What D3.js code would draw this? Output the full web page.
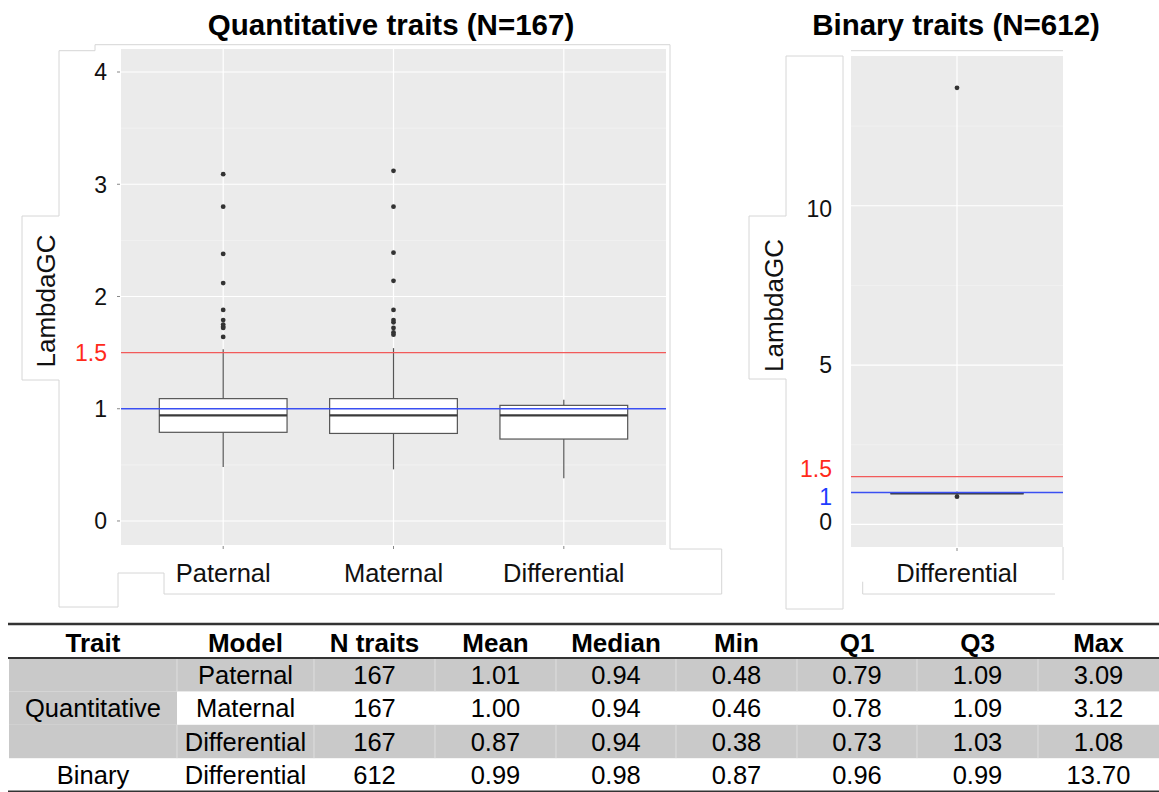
<!DOCTYPE html>
<html>
<head>
<meta charset="utf-8">
<script src="https://cdn.jsdelivr.net/npm/d3@7"></script>
<style>
  body { margin: 0; background: #fff; }
  svg { display: block; font-family: "Liberation Sans", Arial, Helvetica, sans-serif; }
</style>
</head>
<body>
<svg id="fig" width="1159" height="792"></svg>
<script>
// ---- data ----
const quantModels = ["Paternal", "Maternal", "Differential"];
const quantQ1 = [0.79, 0.78, 0.73];
const quantMedian = [0.94, 0.94, 0.94];
const quantQ3 = [1.09, 1.09, 1.03];
const quantWhiskerLow = [0.48, 0.46, 0.38];
const quantWhiskerHigh = [1.53, 1.54, 1.08];
const quantOutliers = [
  [3.09, 2.80, 2.38, 2.12, 1.88, 1.79, 1.75, 1.73, 1.72, 1.64],
  [3.12, 2.80, 2.39, 2.14, 1.88, 1.79, 1.77, 1.72, 1.68, 1.66],
  []
];
const quantTicks = [0, 1, 2, 3, 4];

const binaryModels = ["Differential"];
const binaryQ1 = [0.96];
const binaryMedian = [0.98];
const binaryQ3 = [0.99];
const binaryWhiskerLow = [0.92];
const binaryWhiskerHigh = [1.03];
const binaryOutliers = [[0.87, 13.70]];
const binaryTicks = [0, 5, 10];

const redLine = 1.5;
const blueLine = 1;

const tableHeaders = ["Trait", "Model", "N traits", "Mean", "Median", "Min", "Q1", "Q3", "Max"];
const tableTrait = ["Quantitative", "Quantitative", "Quantitative", "Binary"];
const tableModel = ["Paternal", "Maternal", "Differential", "Differential"];
const tableN = [167, 167, 167, 612];
const tableMean = [1.01, 1.00, 0.87, 0.99];
const tableMedianCol = [0.94, 0.94, 0.94, 0.98];
const tableMin = [0.48, 0.46, 0.38, 0.87];
const tableQ1 = [0.79, 0.78, 0.73, 0.96];
const tableQ3 = [1.09, 1.09, 1.03, 0.99];
const tableMax = [3.09, 3.12, 1.08, 13.70];

// ---- colours ----
const panelBg = "#ebebeb";
const boxStroke = "#555";
const redCol = "#f25a5a", redText = "#ff2a1a";
const blueCol = "#3a4ff2", blueText = "#1d3cff";
const frameCol = "#d6d6d6";

const svg = d3.select("#fig");

// faint frames left over from the pasted panels
const frames = [
  "M59,50.7 L95,50.7 L95,44.7 L670,44.7 L670,549 L721.7,549 L721.7,594 L164,594 L164,573 L118,573 L118,607 L59,607 L59,380 L22,380 L22,216 L59,216 Z",
  "M786,56 L843,56 L843,609 L786,609 L786,379 L749,379 L749,216 L786,216 Z",
  "M851,50.7 L1063,50.7",
  "M862.7,581.7 L862.7,594 L1055,594",
  "M1063,547 L1063,580"
];
svg.append("g").selectAll("path").data(frames).join("path")
  .attr("d", d => d).attr("fill", "none").attr("stroke", frameCol).attr("stroke-width", 1);

function boxPanel(cfg) {
  const g = svg.append("g");
  const x = d3.scalePoint().domain(cfg.models).range([cfg.x0, cfg.x1]).padding(0.6);
  const y = d3.scaleLinear().domain(cfg.domain).range([cfg.y1, cfg.y0]);
  const boxW = x.step() * 0.75;

  g.append("rect").attr("x", cfg.x0).attr("y", cfg.y0)
    .attr("width", cfg.x1 - cfg.x0).attr("height", cfg.y1 - cfg.y0).attr("fill", panelBg);

  // minor grid
  g.selectAll(".minor").data(cfg.minor).join("line")
    .attr("x1", cfg.x0).attr("x2", cfg.x1).attr("y1", d => y(d)).attr("y2", d => y(d))
    .attr("stroke", "#f4f4f4").attr("stroke-width", 0.7);
  // major grid
  g.selectAll(".major").data(cfg.ticks).join("line")
    .attr("x1", cfg.x0).attr("x2", cfg.x1).attr("y1", d => y(d)).attr("y2", d => y(d))
    .attr("stroke", "#fff").attr("stroke-width", 1.2);
  g.selectAll(".vgrid").data(cfg.models).join("line")
    .attr("x1", d => x(d)).attr("x2", d => x(d)).attr("y1", cfg.y0).attr("y2", cfg.y1)
    .attr("stroke", "#fff").attr("stroke-width", 1.2);

  // x ticks
  g.selectAll(".xt").data(cfg.models).join("line")
    .attr("x1", d => x(d)).attr("x2", d => x(d)).attr("y1", cfg.y1 + 1).attr("y2", cfg.y1 + 4)
    .attr("stroke", "#888").attr("stroke-width", 1);

  const boxes = g.selectAll(".box").data(cfg.models.map((m, i) => ({
    m, q1: cfg.q1[i], med: cfg.med[i], q3: cfg.q3[i], lo: cfg.lo[i], hi: cfg.hi[i], out: cfg.out[i]
  }))).join("g");

  boxes.append("line").attr("x1", d => x(d.m)).attr("x2", d => x(d.m))
    .attr("y1", d => y(d.q3)).attr("y2", d => y(d.hi)).attr("stroke", boxStroke).attr("stroke-width", 1.2);
  boxes.append("line").attr("x1", d => x(d.m)).attr("x2", d => x(d.m))
    .attr("y1", d => y(d.q1)).attr("y2", d => y(d.lo)).attr("stroke", boxStroke).attr("stroke-width", 1.2);
  boxes.append("rect").attr("x", d => x(d.m) - boxW / 2).attr("width", boxW)
    .attr("y", d => y(d.q3)).attr("height", d => y(d.q1) - y(d.q3))
    .attr("fill", "#fff").attr("stroke", boxStroke).attr("stroke-width", 1.2);
  boxes.append("line").attr("x1", d => x(d.m) - boxW / 2).attr("x2", d => x(d.m) + boxW / 2)
    .attr("y1", d => y(d.med)).attr("y2", d => y(d.med)).attr("stroke", "#3a3a3a").attr("stroke-width", 2.2);
  boxes.selectAll("circle").data(d => d.out.map(v => ({ m: d.m, v }))).join("circle")
    .attr("cx", d => x(d.m)).attr("cy", d => y(d.v)).attr("r", 2.4).attr("fill", "#333");

  // reference lines
  g.append("line").attr("x1", cfg.x0).attr("x2", cfg.x1).attr("y1", y(redLine)).attr("y2", y(redLine))
    .attr("stroke", redCol).attr("stroke-width", 1.3);
  g.append("line").attr("x1", cfg.x0).attr("x2", cfg.x1).attr("y1", y(blueLine)).attr("y2", y(blueLine))
    .attr("stroke", blueCol).attr("stroke-width", 1.3);

  // y tick labels
  if (cfg.tickMarks) {
    g.selectAll(".yt").data(cfg.ticks).join("line")
      .attr("x1", cfg.x0 - 4).attr("x2", cfg.x0 - 1).attr("y1", d => y(d)).attr("y2", d => y(d))
      .attr("stroke", "#888");
  }
  g.selectAll(".yl").data(cfg.ticks).join("text")
    .attr("x", cfg.labelX).attr("y", d => y(d) + (cfg.nudge[d] || 0)).attr("dy", "0.36em")
    .attr("text-anchor", "end").attr("font-size", 23).attr("fill", "#111").text(d => d);
  g.append("text").attr("x", cfg.labelX).attr("y", y(redLine) + (cfg.nudge.red || 0)).attr("dy", "0.36em")
    .attr("text-anchor", "end").attr("font-size", 23).attr("fill", redText).text(redLine);
  if (cfg.blueLabel) {
    g.append("text").attr("x", cfg.labelX).attr("y", y(blueLine) + (cfg.nudge.blue || 0)).attr("dy", "0.36em")
      .attr("text-anchor", "end").attr("font-size", 23).attr("fill", blueText).text(blueLine);
  }

  // x labels
  g.selectAll(".xl").data(cfg.models).join("text")
    .attr("x", d => x(d)).attr("y", 581.5).attr("text-anchor", "middle")
    .attr("font-size", 25.5).attr("fill", "#111").text(d => d);

  // axis title
  g.append("text").attr("transform", `translate(${cfg.titleX},${(cfg.y0 + cfg.y1) / 2 + 4}) rotate(-90)`)
    .attr("text-anchor", "middle").attr("font-size", 26).attr("fill", "#111").text("LambdaGC");

  // panel title
  g.append("text").attr("x", cfg.headX).attr("y", 34.5).attr("text-anchor", "middle")
    .attr("font-size", 29.5).attr("font-weight", "bold").attr("fill", "#000").text(cfg.head);
}

boxPanel({
  models: quantModels, q1: quantQ1, med: quantMedian, q3: quantQ3,
  lo: quantWhiskerLow, hi: quantWhiskerHigh, out: quantOutliers,
  ticks: quantTicks, minor: [0.5, 1.5, 2.5, 3.5], domain: [-0.214, 4.205],
  x0: 121, x1: 666, y0: 49, y1: 545, labelX: 107, tickMarks: true,
  nudge: {}, blueLabel: false, titleX: 55, headX: 391,
  head: "Quantitative traits (N=167)"
});

boxPanel({
  models: binaryModels, q1: binaryQ1, med: binaryMedian, q3: binaryQ3,
  lo: binaryWhiskerLow, hi: binaryWhiskerHigh, out: binaryOutliers,
  ticks: binaryTicks, minor: [2.5, 7.5, 12.5], domain: [-0.71, 14.70],
  x0: 851, x1: 1063, y0: 56, y1: 547, labelX: 832, tickMarks: false,
  nudge: { 0: -3, 10: 3, red: -8, blue: 4.5 }, blueLabel: true, titleX: 783, headX: 956,
  head: "Binary traits (N=612)"
});

// ---- summary table ----
const colEdges = [9, 177, 314, 435, 556, 676, 797, 917, 1038, 1159];
const headTop = 624, headBottom = 658, rowH = 33.4;
const tbl = svg.append("g");
const fmt = d3.format(".2f");
const rows = tableModel.map((m, i) => [
  tableTrait[i], m, tableN[i], fmt(tableMean[i]), fmt(tableMedianCol[i]),
  fmt(tableMin[i]), fmt(tableQ1[i]), fmt(tableQ3[i]), fmt(tableMax[i])
]);
const greyRow = i => tableTrait[i] === "Quantitative" && i % 2 === 0;
const cellFill = "#c9c9c9";

rows.forEach((r, i) => {
  const y0 = headBottom + i * rowH;
  r.forEach((v, j) => {
    const grey = greyRow(i) || (j === 0 && tableTrait[i] === "Quantitative");
    if (grey) {
      tbl.append("rect").attr("x", colEdges[j]).attr("y", y0)
        .attr("width", colEdges[j + 1] - colEdges[j]).attr("height", rowH).attr("fill", cellFill);
    }
  });
});
// light separators in grey rows
rows.forEach((r, i) => {
  if (!greyRow(i)) return;
  const y0 = headBottom + i * rowH;
  tbl.selectAll(null).data(colEdges.slice(1, -1)).join("line")
    .attr("x1", d => d).attr("x2", d => d).attr("y1", y0).attr("y2", y0 + rowH)
    .attr("stroke", "#dedede").attr("stroke-width", 1);
});

tbl.selectAll(".th").data(tableHeaders).join("text")
  .attr("x", (d, j) => (colEdges[j] + colEdges[j + 1]) / 2).attr("y", 652)
  .attr("text-anchor", "middle").attr("font-size", 26).attr("font-weight", "bold").text(d => d);

rows.forEach((r, i) => {
  const y0 = headBottom + i * rowH;
  r.forEach((v, j) => {
    if (j === 0 && tableTrait[i] === "Quantitative") {
      if (i !== 1) return;
    }
    tbl.append("text").attr("x", (colEdges[j] + colEdges[j + 1]) / 2)
      .attr("y", y0 + rowH / 2 + 9).attr("text-anchor", "middle")
      .attr("font-size", 25.5).attr("fill", "#000").text(v);
  });
});

tbl.append("line").attr("x1", 8).attr("x2", 1159).attr("y1", headTop).attr("y2", headTop)
  .attr("stroke", "#333").attr("stroke-width", 2.5);
tbl.append("line").attr("x1", 8).attr("x2", 1159).attr("y1", headBottom).attr("y2", headBottom)
  .attr("stroke", "#333").attr("stroke-width", 2);
tbl.append("line").attr("x1", 8).attr("x2", 1159).attr("y1", headBottom + 4 * rowH).attr("y2", headBottom + 4 * rowH)
  .attr("stroke", "#333").attr("stroke-width", 2);
</script>
</body>
</html>
